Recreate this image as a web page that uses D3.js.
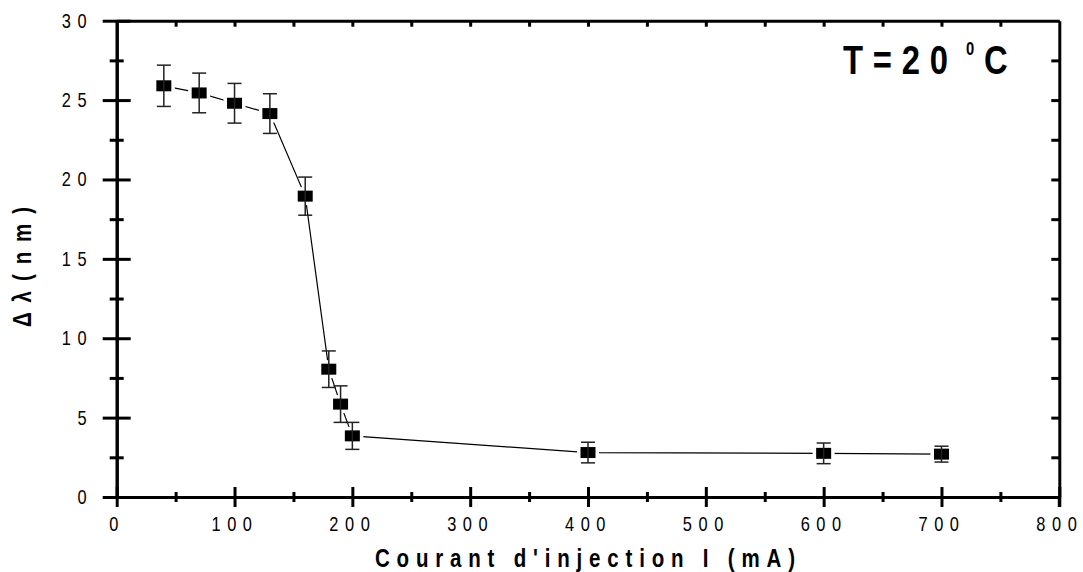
<!DOCTYPE html>
<html>
<head>
<meta charset="utf-8">
<script src="https://cdn.jsdelivr.net/npm/d3@7"></script>
<style>
  body { margin: 0; background: #fff; }
  svg { display: block; }
  text { font-family: "Liberation Sans", Arial, sans-serif; fill: #000; }
</style>
</head>
<body>
<figure id="chart" style="margin:0"></figure>
<script>
const current = [40, 70, 100, 130, 160, 180, 190, 200, 400, 600, 700];
const deltaLambda = [25.9, 25.45, 24.8, 24.15, 18.95, 8.05, 5.85, 3.85, 2.8, 2.75, 2.7];
const errors = [1.3, 1.25, 1.25, 1.25, 1.2, 1.15, 1.15, 0.85, 0.65, 0.65, 0.5];

const xMajor = [0, 100, 200, 300, 400, 500, 600, 700, 800];
const xMinor = [50, 150, 250, 350, 450, 550, 650, 750];
const yMajor = [0, 5, 10, 15, 20, 25, 30];
const yMinor = [2.5, 7.5, 12.5, 17.5, 22.5, 27.5];

const width = 1083, height = 572;
const mLeft = 116.7, mRight = 1059.3, mTop = 20.7, mBottom = 497;
const narrow = 0.82; // squeeze Liberation Sans into an Arial Narrow look

const data = current.map((c, i) => ({ x: c, y: deltaLambda[i], e: errors[i] }));

const svg = d3.select("#chart").append("svg")
  .attr("width", width)
  .attr("height", height);

const x = d3.scaleLinear().domain([0, 800]).range([mLeft, mRight]);
const y = d3.scaleLinear().domain([0, 30]).range([mBottom, mTop]);

// bottom axis: labelled major ticks, crossing the axis
const gx = svg.append("g")
  .attr("transform", "translate(0," + mBottom + ")")
  .call(d3.axisBottom(x).tickValues(xMajor).tickFormat(d => String(d)).tickSize(10).tickSizeOuter(0));
gx.selectAll(".tick line").attr("y1", -10);
gx.selectAll("text")
  .attr("y", 34).attr("dy", 0)
  .attr("transform", "scale(" + narrow + ",1)")
  .style("font-size", "20px").style("letter-spacing", "8px");

svg.append("g")
  .attr("transform", "translate(0," + mBottom + ")")
  .call(d3.axisBottom(x).tickValues(xMinor).tickFormat("").tickSize(5).tickSizeOuter(0))
  .selectAll(".tick line").attr("y1", -5);

// left axis
const gy = svg.append("g")
  .attr("transform", "translate(" + mLeft + ",0)")
  .call(d3.axisLeft(y).tickValues(yMajor).tickFormat(d => String(d)).tickSize(14).tickSizeOuter(0));
gy.selectAll(".tick line").attr("x1", 14);
gy.selectAll("text")
  .attr("x", -23.5 / narrow)
  .attr("transform", "scale(" + narrow + ",1)")
  .style("font-size", "20px").style("letter-spacing", "8px");

svg.append("g")
  .attr("transform", "translate(" + mLeft + ",0)")
  .call(d3.axisLeft(y).tickValues(yMinor).tickFormat("").tickSize(7).tickSizeOuter(0))
  .selectAll(".tick line").attr("x1", 7);

// top and right frame with inward ticks
svg.append("g")
  .attr("transform", "translate(0," + mTop + ")")
  .call(d3.axisBottom(x).tickValues(xMajor.concat(xMinor).filter(d => d > 0 && d < 800)).tickFormat("").tickSize(6).tickSizeOuter(0));

svg.append("g")
  .attr("transform", "translate(" + mRight + ",0)")
  .call(d3.axisLeft(y).tickValues(yMajor.concat(yMinor).filter(d => d > 0 && d < 30)).tickFormat("").tickSize(8).tickSizeOuter(0));

svg.append("line")
  .attr("x1", mRight).attr("x2", mRight)
  .attr("y1", mBottom).attr("y2", mBottom + 10)
  .attr("stroke", "#000").attr("stroke-width", 3);

svg.selectAll(".domain, .tick line")
  .attr("stroke", "#000")
  .attr("stroke-width", 3);

// connecting line
svg.append("path")
  .datum(data)
  .attr("fill", "none")
  .attr("stroke", "#000")
  .attr("stroke-width", 1.2)
  .attr("d", d3.line().x(d => x(d.x)).y(d => y(d.y)));

// markers with a white halo so the line stops short of them
const mw = 15, mh = 11;
svg.selectAll(".halo")
  .data(data)
  .enter()
  .append("rect")
  .attr("x", d => x(d.x) - mw / 2)
  .attr("y", d => y(d.y) - mh / 2)
  .attr("width", mw)
  .attr("height", mh)
  .attr("fill", "#fff")
  .attr("stroke", "#fff")
  .attr("stroke-width", 7);

svg.selectAll(".marker")
  .data(data)
  .enter()
  .append("rect")
  .attr("x", d => x(d.x) - mw / 2)
  .attr("y", d => y(d.y) - mh / 2)
  .attr("width", mw)
  .attr("height", mh)
  .attr("fill", "#000");

// error bars
const eb = svg.selectAll(".err")
  .data(data)
  .enter()
  .append("g")
  .attr("stroke", "#222")
  .attr("stroke-width", 1.5);
eb.append("line")
  .attr("x1", d => x(d.x)).attr("x2", d => x(d.x))
  .attr("y1", d => y(d.y + d.e)).attr("y2", d => y(d.y - d.e));
eb.append("line")
  .attr("x1", d => x(d.x) - 7).attr("x2", d => x(d.x) + 7)
  .attr("y1", d => y(d.y + d.e)).attr("y2", d => y(d.y + d.e));
eb.append("line")
  .attr("x1", d => x(d.x) - 7).attr("x2", d => x(d.x) + 7)
  .attr("y1", d => y(d.y - d.e)).attr("y2", d => y(d.y - d.e));

// narrow bold text, stretched by spacing to a given width
function label(transform, str, size, len) {
  const t = svg.append("g")
    .attr("transform", transform + " scale(" + narrow + ",1)")
    .append("text")
    .style("font-size", size + "px")
    .style("font-weight", "bold")
    .text(str);
  if (len) t.attr("textLength", len / narrow).attr("lengthAdjust", "spacing");
  return t;
}

label("translate(375,567)", "Courant d'injection I (mA)", 25, 420);
label("translate(31,327) rotate(-90)", "Δλ(nm)", 25, 120);

// temperature annotation
label("translate(843,74)", "T = 2 0", 40, 105);
label("translate(966,55)", "0", 18);
label("translate(984,74)", "C", 40);
</script>
</body>
</html>
